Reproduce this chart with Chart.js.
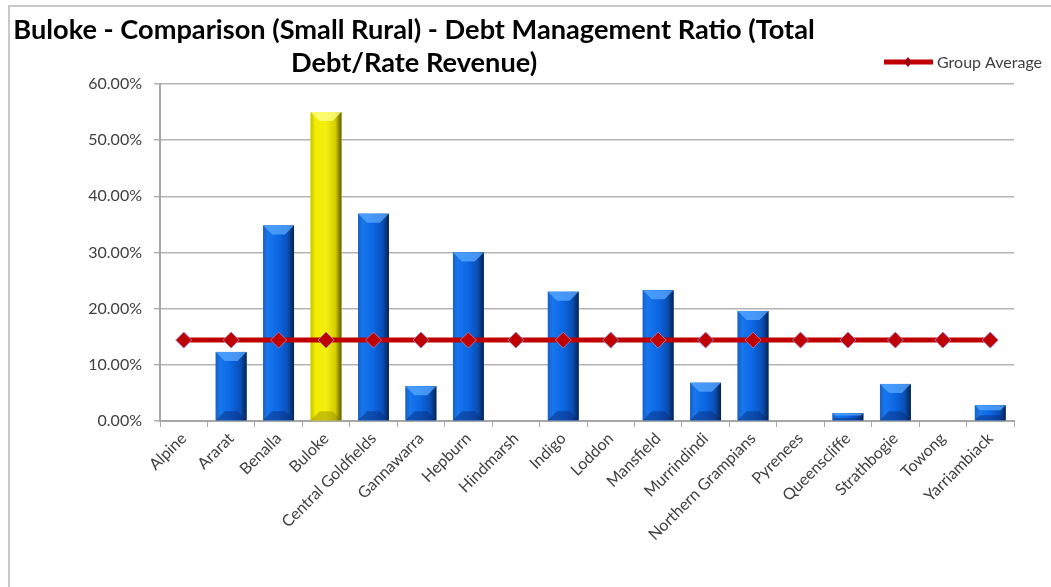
<!DOCTYPE html>
<html>
<head>
<meta charset="utf-8">
<script src="https://cdn.jsdelivr.net/npm/chart.js@4/dist/chart.umd.min.js"></script>
<style>
    html, body { margin: 0; padding: 0; background: #fff; }
    #wrap { position: relative; width: 1051px; height: 587px; }
</style>
</head>
<body>
<div id="wrap"><canvas id="debtChart" width="1051" height="587"></canvas></div>
<script>
const titleLines = ["Buloke - Comparison (Small Rural) - Debt Management Ratio (Total", "Debt/Rate Revenue)"];
const councils = ["Alpine", "Ararat", "Benalla", "Buloke", "Central Goldfields", "Gannawarra", "Hepburn", "Hindmarsh", "Indigo", "Loddon", "Mansfield", "Murrindindi", "Northern Grampians", "Pyrenees", "Queenscliffe", "Strathbogie", "Towong", "Yarriambiack"];
const debtRatio = [0, 12.3, 34.8, 55.0, 36.9, 6.2, 30.0, 0, 23.0, 0, 23.3, 6.8, 19.6, 0, 1.4, 6.6, 0, 2.8];
const groupAverage = [14.4, 14.4, 14.4, 14.4, 14.4, 14.4, 14.4, 14.4, 14.4, 14.4, 14.4, 14.4, 14.4, 14.4, 14.4, 14.4, 14.4, 14.4];
const highlightCouncil = "Buloke";
const averageLabel = "Group Average";

const FONT = "Lato, 'Liberation Sans', sans-serif";

// excel-ish bevelled bars, painted over the plain bar fills
const bevelPlugin = {
    id: "bevel",
    afterDatasetDraw(chart, args) {
        if (args.meta.type !== "bar") return;
        const ctx = chart.ctx;
        args.meta.data.forEach((bar, i) => {
            const p = bar.getProps(["x", "y", "base", "width"], true);
            const h = p.base - p.y;
            if (h < 1) return;
            const left = p.x - p.width / 2, right = p.x + p.width / 2;
            const top = p.y, bottom = p.base;
            const yellow = councils[i] === highlightCouncil;
            const g = ctx.createLinearGradient(left, 0, right, 0);
            if (yellow) {
                g.addColorStop(0, "#c9c000");
                g.addColorStop(0.15, "#f2ec00");
                g.addColorStop(0.5, "#f4ef10");
                g.addColorStop(0.8, "#d6cf00");
                g.addColorStop(1, "#5e5800");
            } else {
                g.addColorStop(0, "#1d5fc4");
                g.addColorStop(0.15, "#1677ee");
                g.addColorStop(0.5, "#0c66e2");
                g.addColorStop(0.8, "#0a4fb6");
                g.addColorStop(1, "#06224f");
            }
            const b = Math.min(9, h / 3);
            ctx.save();
            ctx.fillStyle = g;
            ctx.fillRect(left, top, right - left, h);
            // top bevel
            ctx.fillStyle = yellow ? "rgba(255,255,140,0.75)" : "rgba(90,170,255,0.75)";
            ctx.beginPath();
            ctx.moveTo(left, top);
            ctx.lineTo(right, top);
            ctx.lineTo(right - b, top + b);
            ctx.lineTo(left + b, top + b);
            ctx.closePath();
            ctx.fill();
            // bottom bevel
            ctx.fillStyle = yellow ? "rgba(120,110,0,0.35)" : "rgba(10,40,110,0.45)";
            ctx.beginPath();
            ctx.moveTo(left + b, bottom - b);
            ctx.lineTo(right - b, bottom - b);
            ctx.lineTo(right, bottom);
            ctx.lineTo(left, bottom);
            ctx.closePath();
            ctx.fill();
            ctx.restore();
        });
    }
};

// frame, title and the legend (Excel puts them in odd places)
const decorPlugin = {
    id: "decor",
    beforeDraw(chart) {
        const ctx = chart.ctx;
        ctx.save();
        ctx.strokeStyle = "#c8c8c8";
        ctx.lineWidth = 2;
        ctx.beginPath();
        ctx.moveTo(9, 587);
        ctx.lineTo(9, 6);
        ctx.lineTo(1051, 6);
        ctx.stroke();
        ctx.restore();
    },
    afterDraw(chart) {
        const ctx = chart.ctx;
        ctx.save();
        ctx.fillStyle = "#000";
        // size the title so the first line spans what Excel's Calibri did
        ctx.font = "bold 20px " + FONT;
        const size = Math.min(30, 20 * 803 / ctx.measureText(titleLines[0]).width);
        ctx.font = "bold " + size.toFixed(1) + "px " + FONT;
        ctx.textAlign = "center";
        ctx.textBaseline = "middle";
        ctx.fillText(titleLines[0], 414, 30);
        ctx.fillText(titleLines[1], 414, 63);

        ctx.strokeStyle = "#c00000";
        ctx.lineWidth = 5;
        ctx.beginPath();
        ctx.moveTo(884, 62);
        ctx.lineTo(933, 62);
        ctx.stroke();
        ctx.fillStyle = "#a00010";
        ctx.beginPath();
        ctx.moveTo(908, 57);
        ctx.lineTo(912, 62);
        ctx.lineTo(908, 67);
        ctx.lineTo(904, 62);
        ctx.closePath();
        ctx.fill();
        ctx.fillStyle = "#404040";
        ctx.font = "16px " + FONT;
        ctx.textAlign = "left";
        ctx.fillText(averageLabel, 937, 63);
        ctx.restore();
    }
};

new Chart(document.getElementById("debtChart"), {
    data: {
        labels: councils,
        datasets: [
            {
                type: "line",
                label: averageLabel,
                data: groupAverage,
                borderColor: "#c00000",
                borderWidth: 5,
                pointStyle: "rectRot",
                pointRadius: 8,
                pointBackgroundColor: "#c00000",
                pointBorderColor: "#9a7ab8",
                pointBorderWidth: 1,
                order: 1
            },
            {
                type: "bar",
                label: "Debt Management Ratio",
                data: debtRatio,
                backgroundColor: councils.map(c => c === highlightCouncil ? "#f0ea00" : "#0c66e2"),
                borderWidth: 0,
                categoryPercentage: 1,
                barPercentage: 0.65,
                order: 2
            }
        ]
    },
    options: {
        responsive: false,
        animation: false,
        layout: { padding: { top: 84, right: 37, left: 0, bottom: 0 } },
        plugins: {
            legend: { display: false },
            title: { display: false },
            tooltip: { enabled: false }
        },
        scales: {
            x: {
                grid: { drawOnChartArea: false, drawTicks: true, tickLength: 6, color: "#a6a6a6", offset: true },
                border: { color: "#a6a6a6", width: 2 },
                ticks: {
                    color: "#404040",
                    font: { family: FONT, size: 16 },
                    minRotation: 45,
                    maxRotation: 45,
                    autoSkip: false,
                    padding: 2
                },
                afterFit: (axis) => { axis.height = 166; }
            },
            y: {
                min: 0,
                max: 60,
                grid: { color: "#b3b3b3", lineWidth: 1.5, tickLength: 6 },
                border: { color: "#a6a6a6", width: 2 },
                ticks: {
                    stepSize: 10,
                    color: "#404040",
                    font: { family: FONT, size: 16 },
                    padding: 12,
                    callback: (v) => v.toFixed(2) + "%"
                },
                afterFit: (axis) => { axis.width = 160; }
            }
        }
    },
    plugins: [bevelPlugin, decorPlugin]
});
</script>
</body>
</html>
